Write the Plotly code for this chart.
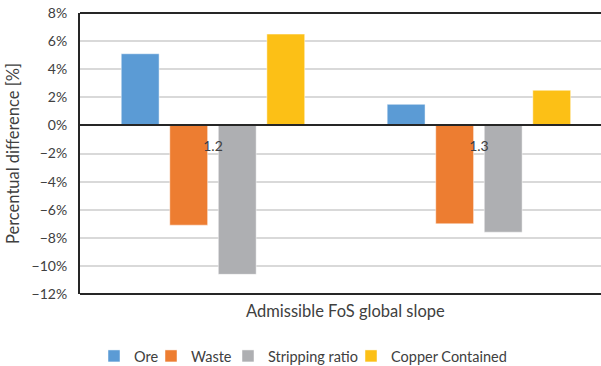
import plotly.graph_objects as go

# Percentual difference per admissible FoS of the global slope
categories = ["1.2", "1.3"]
series_names = ["Ore", "Waste", "Stripping ratio", "Copper Contained"]
ore = [5.1, 1.5]
waste = [-7.1, -7.0]
stripping_ratio = [-10.6, -7.6]
copper_contained = [6.5, 2.5]
y_ticks = [8, 6, 4, 2, 0, -2, -4, -6, -8, -10, -12]

colors = ["#5B9BD5", "#ED7D31", "#AEAFB2", "#FCC016"]
values = [ore, waste, stripping_ratio, copper_contained]

FONT = "Lato"
TXT = "#404040"
W, H = 601, 366

# one small legend per series so the entries sit at fixed positions
legend_ids = ["legend", "legend2", "legend3", "legend4"]
legend_left_px = [94, 151, 228, 351]

fig = go.Figure()
for name, vals, col, lg in zip(series_names, values, colors, legend_ids):
    fig.add_trace(go.Bar(
        x=categories, y=[v / 100 for v in vals], name=name, legend=lg,
        marker=dict(color=col, line=dict(color="rgba(255,255,255,0.6)", width=0.8)),
    ))

legend_style = dict(orientation="h", xref="container", yref="container",
                    xanchor="left", yanchor="middle", y=(H - 356) / H,
                    font=dict(size=14.5, color=TXT, family=FONT), itemwidth=30,
                    bgcolor="rgba(0,0,0,0)", borderwidth=0)
legends = {lg: dict(legend_style, x=px / W) for lg, px in zip(legend_ids, legend_left_px)}

fig.update_layout(
    width=W, height=H,
    margin=dict(l=80, r=0, t=13, b=72),
    plot_bgcolor="white", paper_bgcolor="white",
    barmode="group", bargap=0.27, bargroupgap=0.22,
    font=dict(family=FONT, color=TXT),
    showlegend=True,
    xaxis=dict(
        type="category", range=[-0.5, 1.459],
        anchor="free", position=0.6,
        showline=True, linecolor="#262626", linewidth=2,
        ticks="", showgrid=False, zeroline=False,
        tickfont=dict(size=14, color=TXT, family=FONT),
        ticklabelstandoff=8,
    ),
    yaxis=dict(
        range=[-0.12, 0.08], tickvals=[t / 100 for t in y_ticks],
        tickformat=".0%", ticks="",
        showgrid=True, gridcolor="#D9D9D9", gridwidth=1.5,
        zeroline=False,
        showline=True, linecolor="#262626", linewidth=2,
        tickfont=dict(size=14, color=TXT, family=FONT),
        ticklabelstandoff=8,
        title=dict(text="Percentual difference [%]", font=dict(size=16.5, color=TXT, family=FONT),
                   standoff=8),
    ),
    shapes=[
        dict(type="line", xref="paper", yref="paper", x0=0, x1=1, y0=1, y1=1,
             line=dict(color="#262626", width=2)),
        dict(type="line", xref="paper", yref="paper", x0=0, x1=1, y0=0, y1=0,
             line=dict(color="#262626", width=2)),
    ],
    annotations=[
        dict(text="Admissible FoS global slope", xref="x", yref="paper", x=0.5, y=-0.06,
             xanchor="center", yanchor="middle", showarrow=False,
             font=dict(size=16.5, color=TXT, family=FONT)),
    ],
    **legends,
)

fig.write_html("out.html")
